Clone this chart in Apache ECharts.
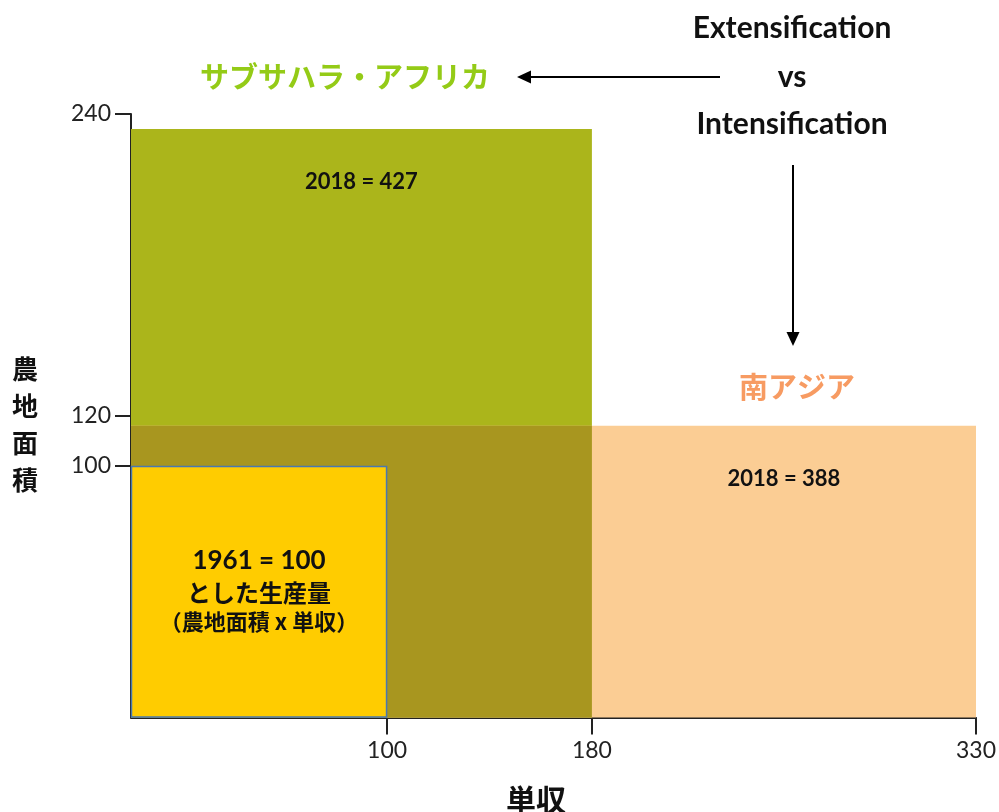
<!DOCTYPE html>
<html><head><meta charset="utf-8">
<script src="https://cdn.jsdelivr.net/npm/echarts@6/dist/echarts.min.js"></script>
<style>html,body{margin:0;padding:0;background:#fff}#c{width:999px;height:812px}</style>
</head><body><div id="c"></div>
<script>
// Data (index values, 1961 = 100)
const regionNames = ['サブサハラ・アフリカ', '南アジア', '1961'];
const yieldIndex = [180, 330, 100];   // 単収
const areaIndex = [234, 116, 100];    // 農地面積
const rectLabels = ['2018 = 427', '2018 = 388', '1961 = 100\nとした生産量\n（農地面積 x 単収）'];
const xTickValues = [100, 180, 330];
const yTickValues = [100, 120, 240];

const FONT = "Lato, 'Noto Sans CJK JP', sans-serif";
const JP = "'Noto Sans CJK JP', Lato, sans-serif";

const fills = ['#abb51b', '#fbcd94', '#ffcc00'];
const overlapFill = '#a8961f';

// Build rect items: SSA, South Asia, overlap, base 1961
const items = [
  {v: [yieldIndex[0], areaIndex[0]], k: 0},
  {v: [yieldIndex[1], areaIndex[1]], k: 1},
  {v: [Math.min(yieldIndex[0], yieldIndex[1]), Math.min(areaIndex[0], areaIndex[1])], k: 'ov'},
  {v: [yieldIndex[2], areaIndex[2]], k: 2}
];

const chart = echarts.init(document.getElementById('c'));

function renderItem(params, api) {
  const it = items[params.dataIndex];
  const p0 = api.coord([0, 0]);
  const p1 = api.coord([api.value(0), api.value(1)]);
  const x = p0[0], y = p1[1], w = p1[0] - p0[0], h = p0[1] - p1[1];
  const children = [];
  if (it.k === 'ov') {
    children.push({type: 'rect', shape: {x, y, width: w, height: h}, style: {fill: overlapFill}});
  } else if (it.k === 2) {
    children.push({type: 'rect', shape: {x: x + 0.5, y: y + 0.5, width: w - 1, height: h - 1},
      style: {fill: fills[2], stroke: '#4a78b0', lineWidth: 1.5}});
    const cx = x + w / 2, cy = y + h / 2;
    const lines = rectLabels[2].split('\n');
    children.push({type: 'text', style: {text: lines[0], x: cx, y: cy - 31, align: 'center', verticalAlign: 'middle',
      font: "bold 26px " + FONT, fill: '#111'}});
    children.push({type: 'text', style: {text: lines[1], x: cx, y: cy + 1, align: 'center', verticalAlign: 'middle',
      font: "bold 24px " + JP, fill: '#111'}});
    children.push({type: 'text', style: {text: lines[2], x: cx, y: cy + 30, align: 'center', verticalAlign: 'middle',
      font: "bold 22px " + JP, fill: '#111'}});
  } else {
    children.push({type: 'rect', shape: {x, y, width: w, height: h}, style: {fill: fills[it.k]}});
    let cx;
    if (it.k === 0) {
      cx = x + w / 2;
    } else {
      const px = api.coord([yieldIndex[0], 0])[0];
      cx = (px + p1[0]) / 2;
    }
    children.push({type: 'text', style: {text: rectLabels[it.k], x: cx, y: y + 53, align: 'center',
      verticalAlign: 'middle', font: "bold 22px " + FONT, fill: '#111'}});
  }
  return {type: 'group', children};
}

function arrow(x1, y1, x2, y2) {
  const ang = Math.atan2(y2 - y1, x2 - x1);
  const L = 14, W = 6.5;
  const bx = x2 - L * Math.cos(ang), by = y2 - L * Math.sin(ang);
  const nx = -Math.sin(ang) * W, ny = Math.cos(ang) * W;
  return [
    {type: 'line', shape: {x1, y1, x2: bx, y2: by}, style: {stroke: '#000', lineWidth: 2}, silent: true},
    {type: 'polygon', shape: {points: [[x2, y2], [bx + nx, by + ny], [bx - nx, by - ny]]}, style: {fill: '#000'}, silent: true}
  ];
}

const option = {
  animation: false,
  backgroundColor: '#fff',
  grid: {left: 131, right: 21, top: 114, bottom: 94.5, containLabel: false},
  xAxis: {
    type: 'value', min: 0, max: 330,
    splitLine: {show: false},
    axisLine: {lineStyle: {color: '#222', width: 2}},
    axisTick: {show: true, length: 17, lineStyle: {color: '#222', width: 2}, customValues: xTickValues},
    axisLabel: {customValues: xTickValues, color: '#222', fontSize: 23, fontFamily: FONT, margin: 22}
  },
  yAxis: {
    type: 'value', min: 0, max: 240,
    splitLine: {show: false},
    axisLine: {show: true, lineStyle: {color: '#222', width: 2}},
    axisTick: {show: true, length: 16, lineStyle: {color: '#222', width: 2}, customValues: yTickValues},
    axisLabel: {customValues: yTickValues, color: '#222', fontSize: 23, fontFamily: FONT, margin: 20}
  },
  series: [{
    type: 'custom',
    renderItem,
    clip: false,
    data: items.map(d => d.v),
    z: 1
  }],
  graphic: [
    {type: 'text', style: {text: regionNames[0], x: 345, y: 77, align: 'center', verticalAlign: 'middle',
      font: "bold 29px " + JP, fill: '#94cb17'}},
    {type: 'text', style: {text: regionNames[1], x: 797, y: 387, align: 'center', verticalAlign: 'middle',
      font: "bold 29px " + JP, fill: '#f79b62'}},
    {type: 'text', style: {text: 'Extensification', x: 792, y: 28, align: 'center', verticalAlign: 'middle',
      font: "bold 30px " + FONT, fill: '#111'}},
    {type: 'text', style: {text: 'vs', x: 792, y: 77, align: 'center', verticalAlign: 'middle',
      font: "bold 30px " + FONT, fill: '#111'}},
    {type: 'text', style: {text: 'Intensification', x: 792, y: 124, align: 'center', verticalAlign: 'middle',
      font: "bold 30px " + FONT, fill: '#111'}},
    {type: 'text', style: {text: '農\n地\n面\n積', x: 25, y: 425, align: 'center', verticalAlign: 'middle',
      font: "bold 26px " + JP, lineHeight: 37, fill: '#111'}},
    {type: 'text', style: {text: '単収', x: 536, y: 800, align: 'center', verticalAlign: 'middle',
      font: "bold 30px " + JP, fill: '#111'}},
    ...arrow(720, 77, 517, 77),
    ...arrow(793, 165, 793, 346)
  ]
};
chart.setOption(option);
</script>
</body></html>
